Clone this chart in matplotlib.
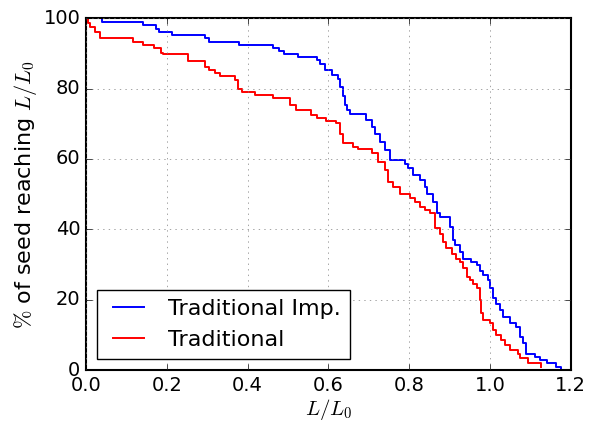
import matplotlib
matplotlib.use("Agg")
import matplotlib.pyplot as plt

# survival-style curves
imp_x = [0.0, 0.039, 0.142, 0.173, 0.181, 0.212, 0.294, 0.305, 0.379, 0.463,
         0.477, 0.49, 0.525, 0.571, 0.579, 0.591, 0.61, 0.624, 0.63, 0.637,
         0.641, 0.645, 0.653, 0.694, 0.707, 0.715, 0.727, 0.74, 0.752, 0.789,
         0.798, 0.81, 0.826, 0.839, 0.843, 0.859, 0.868, 0.876, 0.9, 0.909,
         0.913, 0.925, 0.933, 0.954, 0.967, 0.975, 0.983, 0.995, 1.0, 1.008,
         1.016, 1.024, 1.032, 1.049, 1.065, 1.074, 1.082, 1.09, 1.111, 1.123,
         1.14, 1.164, 1.177]
imp_y = [100, 99, 98, 97, 96, 95.3, 94.4, 93.3, 92.5, 91.4,
         90.6, 89.8, 89, 88, 87.1, 85.4, 83.8, 82.6, 80.5, 78,
         75.3, 74, 72.7, 71, 69.1, 67.2, 64.9, 62.5, 59.8, 58.7,
         57.3, 55.4, 54, 52.1, 49.9, 47.8, 44.5, 43.6, 40.7, 36.9,
         35.5, 33.6, 31.7, 30.8, 29.8, 28.2, 27, 25.6, 23.2, 20.4,
         18.9, 17, 15.1, 13.3, 12.3, 9.5, 7.6, 4.7, 3.8, 2.8,
         1.9, 0.9, 0]

trad_x = [0.0, 0.005, 0.01, 0.022, 0.035, 0.117, 0.142, 0.168, 0.185, 0.191,
          0.253, 0.294, 0.305, 0.319, 0.331, 0.369, 0.377, 0.387, 0.418, 0.463,
          0.506, 0.52, 0.558, 0.571, 0.595, 0.62, 0.628, 0.637, 0.661, 0.674,
          0.707, 0.723, 0.74, 0.748, 0.76, 0.777, 0.802, 0.814, 0.826, 0.839,
          0.851, 0.863, 0.876, 0.884, 0.892, 0.905, 0.917, 0.925, 0.933, 0.942,
          0.95, 0.958, 0.967, 0.975, 0.979, 0.983, 1.0, 1.008, 1.016, 1.028,
          1.037, 1.049, 1.07, 1.074, 1.094, 1.127]
trad_y = [100, 98.5, 97.5, 96.1, 94.4, 93.3, 92.5, 91.6, 90, 89.7,
          87.9, 86.2, 85.2, 84.5, 83.5, 82.4, 80, 79.1, 78.1, 77.2,
          75.3, 73.9, 72.4, 71.5, 70.8, 70.1, 67.2, 64.4, 63.4, 62.7,
          61.6, 59.2, 56.8, 53.5, 52.1, 50, 48.8, 47.8, 46.4, 45.5,
          44.5, 40.3, 38.8, 36.4, 34.6, 33.1, 31.7, 30.8, 28.9, 26.5,
          25.6, 24.6, 23.2, 19.9, 16.1, 14.2, 13.3, 11.4, 9.9, 8.5,
          7.1, 5.7, 4.7, 3.3, 1.9, 0.9]

plt.style.use('classic')
fig = plt.figure(figsize=(5.89, 4.22), dpi=100, facecolor='white')
ax = fig.add_axes([0.146, 0.123, 0.823, 0.834])

ax.plot(imp_x, imp_y, color='blue', drawstyle='steps-post', lw=1.4,
        label='Traditional Imp.')
ax.plot(trad_x, trad_y, color='red', drawstyle='steps-post', lw=1.4,
        label='Traditional')

ax.set_xlim(0, 1.2)
ax.set_ylim(0, 100)
ax.grid(True, color='0.5')
ax.tick_params(labelsize=14)
for s in ax.spines.values():
    s.set_linewidth(1.5)

ax.set_xlabel(r'$L/L_0$', fontsize=15, labelpad=2)
ax.set_ylabel(r'$\%$ of seed reaching $L/L_0$', fontsize=16, labelpad=3)
ax.legend(loc='lower left', fontsize=16)

fig.savefig('out.png', dpi=100, facecolor='white')
